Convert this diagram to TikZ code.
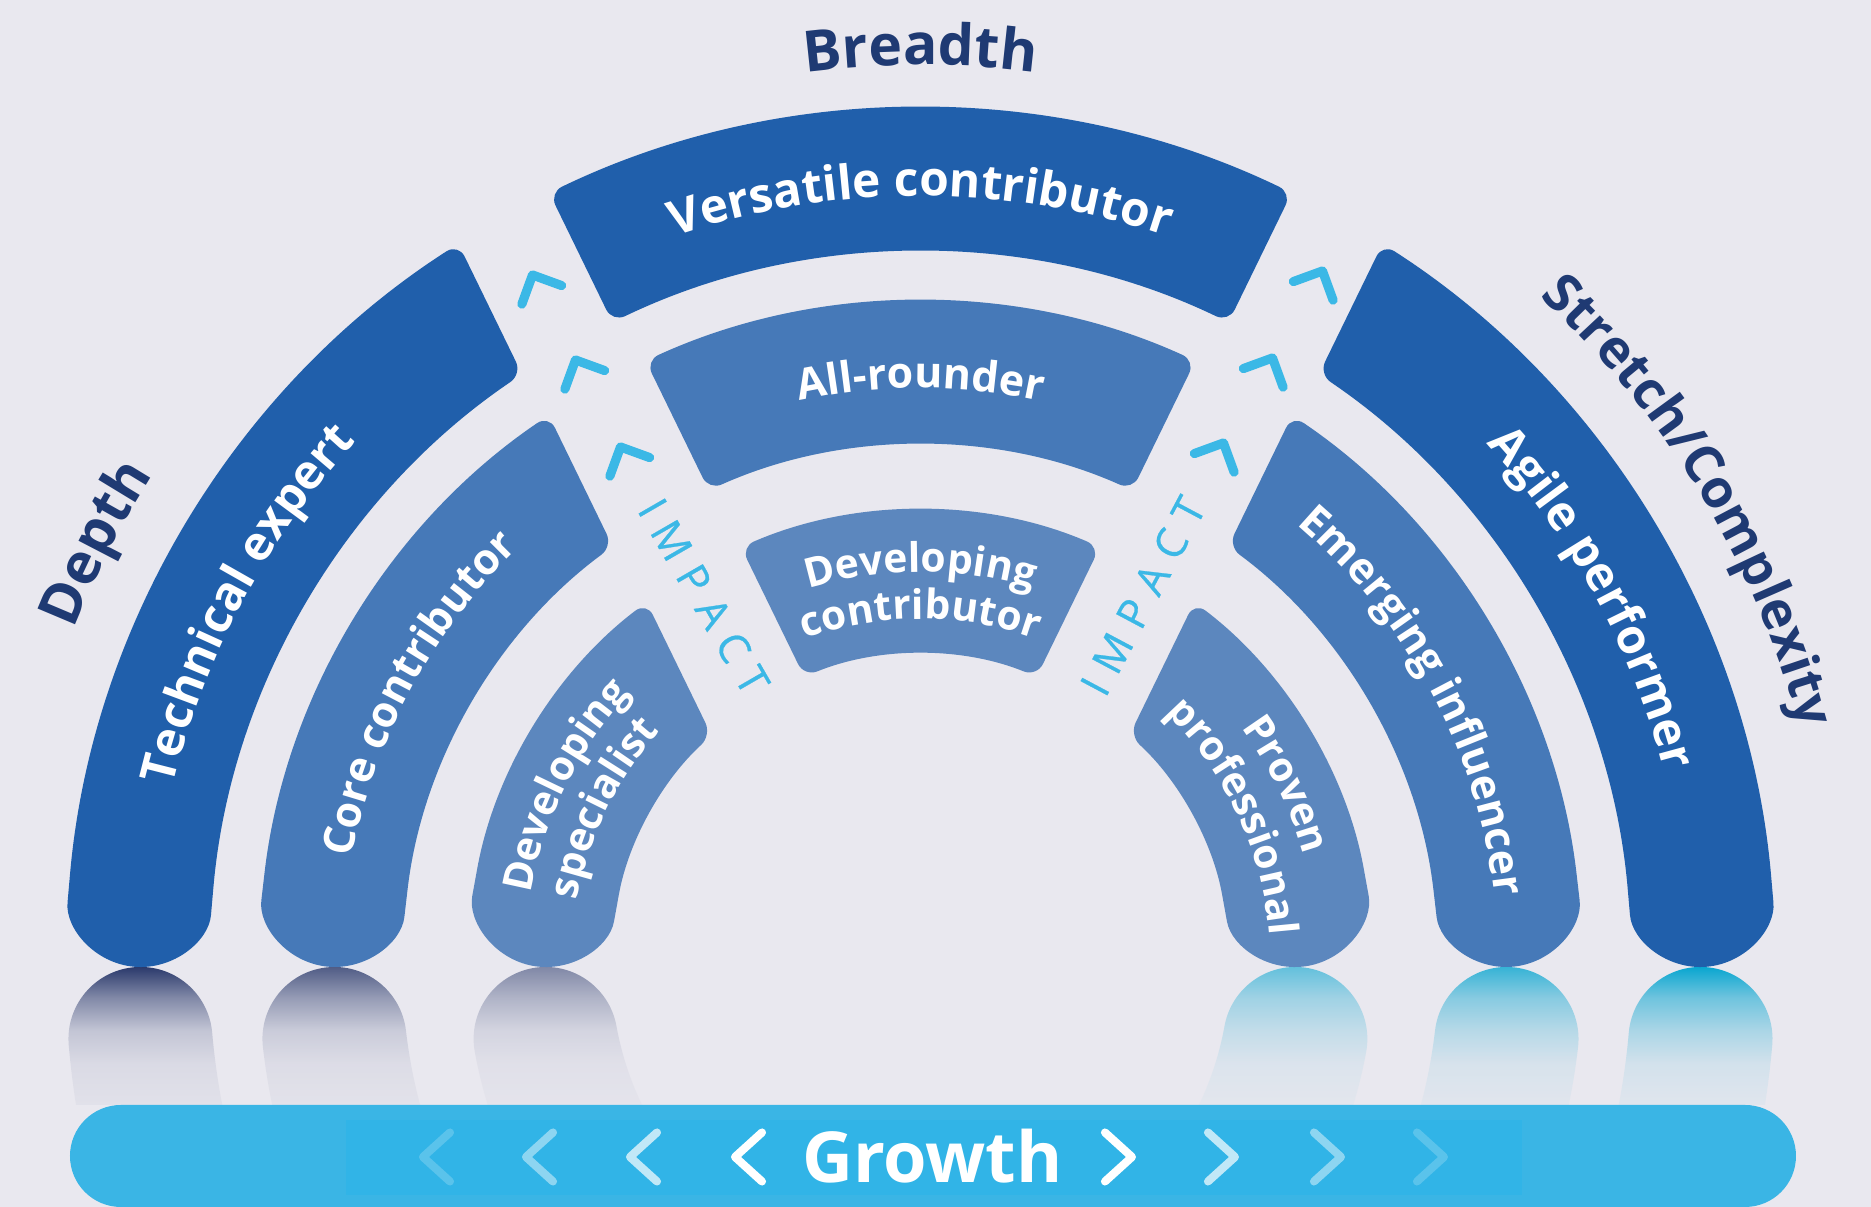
\documentclass[tikz,border=0pt]{standalone}
\usepackage{fontspec}
\setmainfont{Open Sans}
\usepackage{tikz}
\usetikzlibrary{decorations.text}
\usepackage{xcolor}

\definecolor{bg}{HTML}{E9E8EF}
\definecolor{ringA}{HTML}{205FAB}
\definecolor{ringB}{HTML}{4679B8}
\definecolor{ringC}{HTML}{5C87BE}
\definecolor{navy}{HTML}{1F3A73}
\definecolor{impact}{HTML}{3BB8E6}
\definecolor{bar}{HTML}{3AB5E5}
\definecolor{barin}{HTML}{31B4E7}
\definecolor{reflL}{HTML}{2B3A6C}
\definecolor{reflR}{HTML}{0AA6D0}
\colorlet{fadeLa}{bg!96!reflL}
\colorlet{fadeLb}{bg!92!reflL}
\colorlet{fadeLc}{bg!80!reflL}
\colorlet{fadeLd}{bg!45!reflL}
\colorlet{fadeRa}{bg!96!reflR}
\colorlet{fadeRb}{bg!90!reflR}
\colorlet{fadeRc}{bg!72!reflR}
\colorlet{fadeRd}{bg!45!reflR}

\pgfdeclareverticalshading{fadeL}{100bp}{color(0bp)=(fadeLa); color(25bp)=(fadeLa); color(40bp)=(fadeLb); color(52bp)=(fadeLc); color(64bp)=(fadeLd); color(75bp)=(reflL); color(100bp)=(reflL)}
\pgfdeclareverticalshading{fadeR}{100bp}{color(0bp)=(fadeRa); color(25bp)=(fadeRa); color(40bp)=(fadeRb); color(52bp)=(fadeRc); color(64bp)=(fadeRd); color(75bp)=(reflR); color(100bp)=(reflR)}

\newcommand{\bigseg}{\fontsize{13.6}{16}\selectfont\bfseries}
\newcommand{\smallseg}{\fontsize{12.2}{15}\selectfont\bfseries}
\newcommand{\tinyseg}{\fontsize{11.6}{14}\selectfont\bfseries}
\newcommand{\outfont}{\fontsize{16.2}{19}\selectfont\bfseries}
\newcommand{\strfont}{\fontsize{15}{18}\selectfont\bfseries}
\newcommand{\impactfont}{\fontsize{12}{14}\selectfont\addfontfeature{FakeBold=0.6}}

\begin{document}
\begin{tikzpicture}[x=0.01cm, y=0.01cm,
  seg/.style={rounded corners=4pt},
  seglabel/.style={decorate, decoration={text along path, text align=center, text color=white, text={#1}}},
  sidelabel/.style={decorate, decoration={text along path, text align=center, text color=navy, text={#1}}},
  chev/.style={draw=impact, line width=2.6pt, line cap=round, line join=round},
  gchev/.style={draw=white, line width=2.3pt, line cap=round, line join=round},
  impactlabel/.style={text=impact, font=\impactfont, inner sep=0pt}]

\useasboundingbox (-920.5,-244) rectangle (950.5,963);
\fill[bg] (-920.5,-244) rectangle (950.5,963);

% reflections under the arcs
\begin{scope}
  \clip ([shift={(0,-8)}]-175.02:855) arc[start angle=-175.02, end angle=-150, radius=855]
    -- ([shift={(0,-8)}]-150:711) arc[start angle=-150, end angle=-175.02, radius=711]
    arc[start angle=4.98, end angle=184.98, radius=72] -- cycle;
  \shade[shading=fadeL] (-880,-142) rectangle (-680,-4);
\end{scope}
\begin{scope}
  \clip ([shift={(0,-8)}]-173.38:662) arc[start angle=-173.38, end angle=-150, radius=662]
    -- ([shift={(0,-8)}]-150:518) arc[start angle=-150, end angle=-173.38, radius=518]
    arc[start angle=6.62, end angle=186.62, radius=72] -- cycle;
  \shade[shading=fadeL, opacity=0.8] (-700,-142) rectangle (-470,-4);
\end{scope}
\begin{scope}
  \clip ([shift={(0,-8)}]-169.72:453) arc[start angle=-169.72, end angle=-150, radius=453]
    -- ([shift={(0,-8)}]-150:309) arc[start angle=-150, end angle=-169.72, radius=309]
    arc[start angle=10.28, end angle=190.28, radius=72] -- cycle;
  \shade[shading=fadeL, opacity=0.55] (-480,-142) rectangle (-260,-4);
\end{scope}
\begin{scope}
  \clip ([shift={(0,-8)}]-4.98:855) arc[start angle=-4.98, end angle=-30, radius=855]
    -- ([shift={(0,-8)}]-30:711) arc[start angle=-30, end angle=-4.98, radius=711]
    arc[start angle=175.02, end angle=-4.98, radius=72] -- cycle;
  \shade[shading=fadeR] (680,-142) rectangle (880,-4);
\end{scope}
\begin{scope}
  \clip ([shift={(0,-8)}]-6.62:662) arc[start angle=-6.62, end angle=-30, radius=662]
    -- ([shift={(0,-8)}]-30:518) arc[start angle=-30, end angle=-6.62, radius=518]
    arc[start angle=173.38, end angle=-6.62, radius=72] -- cycle;
  \shade[shading=fadeR, opacity=0.8] (470,-142) rectangle (700,-4);
\end{scope}
\begin{scope}
  \clip ([shift={(0,-8)}]-10.28:453) arc[start angle=-10.28, end angle=-30, radius=453]
    -- ([shift={(0,-8)}]-30:309) arc[start angle=-30, end angle=-10.28, radius=309]
    arc[start angle=169.72, end angle=-10.28, radius=72] -- cycle;
  \shade[shading=fadeR, opacity=0.6] (260,-142) rectangle (480,-4);
\end{scope}

% outer ring
\fill[ringA, seg] (115.73:855) arc[start angle=115.73, end angle=64.27, radius=855]
  -- (64.32:711) arc[start angle=64.32, end angle=115.68, radius=711] -- cycle;
\fill[ringA, seg] (122.72:855) arc[start angle=122.72, end angle=175.02, radius=855]
  arc[start angle=175.02, end angle=355.02, radius=72]
  arc[start angle=175.02, end angle=124.09, radius=711] -- cycle;
\fill[ringA, seg] (57.28:855) arc[start angle=57.28, end angle=4.98, radius=855]
  arc[start angle=4.98, end angle=-175.02, radius=72]
  arc[start angle=4.98, end angle=55.91, radius=711] -- cycle;

% middle ring
\fill[ringB, seg] (114.53:662) arc[start angle=114.53, end angle=65.47, radius=662]
  -- (65.88:518) arc[start angle=65.88, end angle=114.12, radius=518] -- cycle;
\fill[ringB, seg] (124.16:662) arc[start angle=124.16, end angle=173.38, radius=662]
  arc[start angle=173.38, end angle=353.38, radius=72]
  arc[start angle=173.38, end angle=126.46, radius=518] -- cycle;
\fill[ringB, seg] (55.84:662) arc[start angle=55.84, end angle=6.62, radius=662]
  arc[start angle=6.62, end angle=-173.38, radius=72]
  arc[start angle=6.62, end angle=53.54, radius=518] -- cycle;

% inner ring
\fill[ringC, seg] (113.34:453) arc[start angle=113.34, end angle=66.66, radius=453]
  -- (67.90:309) arc[start angle=67.90, end angle=112.10, radius=309] -- cycle;
\fill[ringC, seg] (127.2:453) arc[start angle=127.2, end angle=169.72, radius=453]
  arc[start angle=169.72, end angle=349.72, radius=72]
  arc[start angle=169.72, end angle=132.55, radius=309] -- cycle;
\fill[ringC, seg] (52.8:453) arc[start angle=52.8, end angle=10.28, radius=453]
  arc[start angle=10.28, end angle=-169.72, radius=72]
  arc[start angle=10.28, end angle=47.45, radius=309] -- cycle;

% labels on the arcs
\path[seglabel={|\bigseg|Versatile contributor}] (130:767) arc[start angle=130, end angle=50, radius=767];
\path[seglabel={|\smallseg|All-rounder}] (130:575) arc[start angle=130, end angle=50, radius=575];
\path[seglabel={|\tinyseg|Developing}] (135:391) arc[start angle=135, end angle=45, radius=391];
\path[seglabel={|\tinyseg|contributor}] (140:344) arc[start angle=140, end angle=40, radius=344];

\path[seglabel={|\bigseg|Technical expert}] (185:768) arc[start angle=185, end angle=119, radius=768];
\path[seglabel={|\smallseg|Core contributor}] (185:578) arc[start angle=185, end angle=118.6, radius=578];
\path[seglabel={|\tinyseg|Developing}] (190:396) arc[start angle=190, end angle=117, radius=396];
\path[seglabel={|\tinyseg|specialist}] (190:349) arc[start angle=190, end angle=118, radius=349];

\path[seglabel={|\bigseg|Agile performer}] (61.5:768) arc[start angle=61.5, end angle=-4.5, radius=768];
\path[seglabel={|\smallseg|Emerging influencer}] (61:578) arc[start angle=61, end angle=-5, radius=578];
\path[seglabel={|\tinyseg|Proven}] (62:398) arc[start angle=62, end angle=-10, radius=398];
\path[seglabel={|\tinyseg|professional}] (61:350) arc[start angle=61, end angle=-11, radius=350];

% outer titles
\path[sidelabel={|\outfont|Breadth}] (120:898) arc[start angle=120, end angle=60, radius=898];
\path[sidelabel={|\outfont|Depth}] (175:910) arc[start angle=175, end angle=131, radius=910];
\path[sidelabel={|\strfont|Stretch/Complexity}] (66:910) arc[start angle=66, end angle=-4, radius=910];

% chevrons in the gaps
\coordinate (cl1) at (-388,688);
\coordinate (cl2) at (-345,603);
\coordinate (cl3) at (-300,516);
\coordinate (cr1) at (402,692);
\coordinate (cr2) at (352,605);
\coordinate (cr3) at (303,520);
\draw[chev] (cl1) +(250:31) -- (cl1) -- +(340:31);
\draw[chev] (cl2) +(250:31) -- (cl2) -- +(340:31);
\draw[chev] (cl3) +(250:31) -- (cl3) -- +(340:31);
\draw[chev] (cr1) +(290:31) -- (cr1) -- +(200:31);
\draw[chev] (cr2) +(290:31) -- (cr2) -- +(200:31);
\draw[chev] (cr3) +(290:31) -- (cr3) -- +(200:31);

\node[impactlabel, rotate=-60] (impactL) at (-216.5,366.5) {I\kern3.7pt M\kern3.7pt P\kern3.7pt A\kern3.7pt C\kern3.7pt T};
\node[impactlabel, rotate=62] (impactR) at (222.5,367) {I\kern3.7pt M\kern3.7pt P\kern3.7pt A\kern3.7pt C\kern3.7pt T};

% growth bar
\fill[bar, rounded corners=14.5pt] (-850.5,-244) rectangle (875.5,-142);
\fill[barin] (-574.5,-232) rectangle (601.5,-157);
\foreach \x/\o in {-497.5/0.2, -394.5/0.45, -290.5/0.7, -185.5/1}
  \draw[gchev, draw opacity=\o] (\x,-194) +(27,24.5) -- (\x,-194) -- +(27,-24.5);
\foreach \x/\o in {211.5/1, 314.5/0.7, 420.5/0.45, 523.5/0.2}
  \draw[gchev, draw opacity=\o] (\x,-194) +(-27,24.5) -- (\x,-194) -- +(-27,-24.5);
\node[text=white, font=\fontsize{20}{24}\selectfont\bfseries, anchor=base, inner sep=0pt] (growth) at (12,-220) {Growth};
\end{tikzpicture}
\end{document}
